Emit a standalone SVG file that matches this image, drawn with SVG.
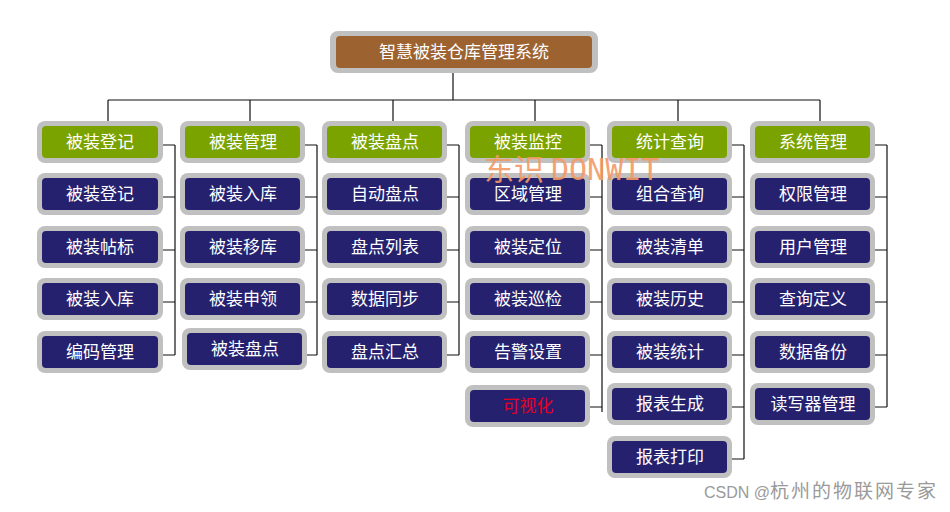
<svg xmlns="http://www.w3.org/2000/svg" width="950" height="512" viewBox="0 0 950 512">
<style>
.o{fill:#C0C0C0}
.g{fill:#7BA300}
.n{fill:#25216F}
.b{fill:#9C6331}
.t{font-family:"Noto Sans CJK SC",sans-serif;font-size:17px;fill:#FFFFFF;text-anchor:middle;dominant-baseline:central}
.r{fill:#E8001C}
.ln{stroke:#111;stroke-width:1.2;fill:none}
</style>
<rect width="950" height="512" fill="#FFFFFF"/>
<g id="connectors" class="ln">
<path d="M453 73V100M108 100H820M108 100V121M250 100V121M393 100V121M535 100V121M678 100V121M820 100V121"/>
<path d="M163 145H175M163 197H175M163 250H175M163 302H175M163 355H175M175 145V355"/>
<path d="M305 145H317M305 197H317M305 250H317M305 302H317M305 355H317M317 145V355"/>
<path d="M447 145H459M447 197H459M447 250H459M447 302H459M447 355H459M459 145V355"/>
<path d="M590 145H602M590 197H602M590 250H602M590 302H602M590 355H602M590 407H602M602 145V412"/>
<path d="M732 145H744M732 197H744M732 250H744M732 302H744M732 355H744M732 407H744M732 459H744M744 145V459"/>
<path d="M875 145H887M875 197H887M875 250H887M875 302H887M875 355H887M875 407H887M887 145V407"/>
</g>
<g id="title"><rect class="o" x="330" y="31" width="268" height="42" rx="8"/><rect class="b" x="336" y="36" width="256" height="32" rx="4"/><text class="t" x="464" y="50">智慧被装仓库管理系统</text></g>

<g id="c1h"><rect class="o" x="37" y="121" width="126" height="42" rx="8"/><rect class="g" x="42" y="126" width="116" height="32" rx="4"/><text class="t" x="100" y="140">被装登记</text></g>
<g id="c1n1"><rect class="o" x="37" y="173" width="126" height="42" rx="8"/><rect class="n" x="42" y="178" width="116" height="32" rx="4"/><text class="t" x="100" y="192">被装登记</text></g>
<g id="c1n2"><rect class="o" x="37" y="226" width="126" height="42" rx="8"/><rect class="n" x="42" y="231" width="116" height="32" rx="4"/><text class="t" x="100" y="245">被装帖标</text></g>
<g id="c1n3"><rect class="o" x="37" y="278" width="126" height="42" rx="8"/><rect class="n" x="42" y="283" width="116" height="32" rx="4"/><text class="t" x="100" y="297">被装入库</text></g>
<g id="c1n4"><rect class="o" x="37" y="331" width="126" height="42" rx="8"/><rect class="n" x="42" y="336" width="116" height="32" rx="4"/><text class="t" x="100" y="350">编码管理</text></g>

<g id="c2h"><rect class="o" x="180" y="121" width="125" height="42" rx="8"/><rect class="g" x="185" y="126" width="115" height="32" rx="4"/><text class="t" x="243" y="140">被装管理</text></g>
<g id="c2n1"><rect class="o" x="180" y="173" width="125" height="42" rx="8"/><rect class="n" x="185" y="178" width="115" height="32" rx="4"/><text class="t" x="243" y="192">被装入库</text></g>
<g id="c2n2"><rect class="o" x="180" y="226" width="125" height="42" rx="8"/><rect class="n" x="185" y="231" width="115" height="32" rx="4"/><text class="t" x="243" y="245">被装移库</text></g>
<g id="c2n3"><rect class="o" x="180" y="278" width="125" height="42" rx="8"/><rect class="n" x="185" y="283" width="115" height="32" rx="4"/><text class="t" x="243" y="297">被装申领</text></g>
<g id="c2n4"><rect class="o" x="182" y="328" width="125" height="42" rx="8"/><rect class="n" x="187" y="333" width="115" height="32" rx="4"/><text class="t" x="245" y="347">被装盘点</text></g>

<g id="c3h"><rect class="o" x="322" y="121" width="125" height="42" rx="8"/><rect class="g" x="327" y="126" width="115" height="32" rx="4"/><text class="t" x="385" y="140">被装盘点</text></g>
<g id="c3n1"><rect class="o" x="322" y="173" width="125" height="42" rx="8"/><rect class="n" x="327" y="178" width="115" height="32" rx="4"/><text class="t" x="385" y="192">自动盘点</text></g>
<g id="c3n2"><rect class="o" x="322" y="226" width="125" height="42" rx="8"/><rect class="n" x="327" y="231" width="115" height="32" rx="4"/><text class="t" x="385" y="245">盘点列表</text></g>
<g id="c3n3"><rect class="o" x="322" y="278" width="125" height="42" rx="8"/><rect class="n" x="327" y="283" width="115" height="32" rx="4"/><text class="t" x="385" y="297">数据同步</text></g>
<g id="c3n4"><rect class="o" x="322" y="331" width="125" height="42" rx="8"/><rect class="n" x="327" y="336" width="115" height="32" rx="4"/><text class="t" x="385" y="350">盘点汇总</text></g>

<g id="c4h"><rect class="o" x="465" y="121" width="125" height="42" rx="8"/><rect class="g" x="470" y="126" width="115" height="32" rx="4"/><text class="t" x="528" y="140">被装监控</text></g>
<g id="c4n1"><rect class="o" x="465" y="173" width="125" height="42" rx="8"/><rect class="n" x="470" y="178" width="115" height="32" rx="4"/><text class="t" x="528" y="192">区域管理</text></g>
<g id="c4n2"><rect class="o" x="465" y="226" width="125" height="42" rx="8"/><rect class="n" x="470" y="231" width="115" height="32" rx="4"/><text class="t" x="528" y="245">被装定位</text></g>
<g id="c4n3"><rect class="o" x="465" y="278" width="125" height="42" rx="8"/><rect class="n" x="470" y="283" width="115" height="32" rx="4"/><text class="t" x="528" y="297">被装巡检</text></g>
<g id="c4n4"><rect class="o" x="465" y="331" width="125" height="42" rx="8"/><rect class="n" x="470" y="336" width="115" height="32" rx="4"/><text class="t" x="528" y="350">告警设置</text></g>
<g id="c4n5"><rect class="o" x="465" y="385" width="125" height="42" rx="8"/><rect class="n" x="470" y="390" width="115" height="32" rx="4"/><text class="t r" x="528" y="404">可视化</text></g>

<g id="c5h"><rect class="o" x="607" y="121" width="125" height="42" rx="8"/><rect class="g" x="612" y="126" width="115" height="32" rx="4"/><text class="t" x="670" y="140">统计查询</text></g>
<g id="c5n1"><rect class="o" x="607" y="173" width="125" height="42" rx="8"/><rect class="n" x="612" y="178" width="115" height="32" rx="4"/><text class="t" x="670" y="192">组合查询</text></g>
<g id="c5n2"><rect class="o" x="607" y="226" width="125" height="42" rx="8"/><rect class="n" x="612" y="231" width="115" height="32" rx="4"/><text class="t" x="670" y="245">被装清单</text></g>
<g id="c5n3"><rect class="o" x="607" y="278" width="125" height="42" rx="8"/><rect class="n" x="612" y="283" width="115" height="32" rx="4"/><text class="t" x="670" y="297">被装历史</text></g>
<g id="c5n4"><rect class="o" x="607" y="331" width="125" height="42" rx="8"/><rect class="n" x="612" y="336" width="115" height="32" rx="4"/><text class="t" x="670" y="350">被装统计</text></g>
<g id="c5n5"><rect class="o" x="607" y="383" width="125" height="42" rx="8"/><rect class="n" x="612" y="388" width="115" height="32" rx="4"/><text class="t" x="670" y="402">报表生成</text></g>
<g id="c5n6"><rect class="o" x="607" y="436" width="125" height="42" rx="8"/><rect class="n" x="612" y="441" width="115" height="32" rx="4"/><text class="t" x="670" y="455">报表打印</text></g>

<g id="c6h"><rect class="o" x="750" y="121" width="125" height="42" rx="8"/><rect class="g" x="755" y="126" width="115" height="32" rx="4"/><text class="t" x="813" y="140">系统管理</text></g>
<g id="c6n1"><rect class="o" x="750" y="173" width="125" height="42" rx="8"/><rect class="n" x="755" y="178" width="115" height="32" rx="4"/><text class="t" x="813" y="192">权限管理</text></g>
<g id="c6n2"><rect class="o" x="750" y="226" width="125" height="42" rx="8"/><rect class="n" x="755" y="231" width="115" height="32" rx="4"/><text class="t" x="813" y="245">用户管理</text></g>
<g id="c6n3"><rect class="o" x="750" y="278" width="125" height="42" rx="8"/><rect class="n" x="755" y="283" width="115" height="32" rx="4"/><text class="t" x="813" y="297">查询定义</text></g>
<g id="c6n4"><rect class="o" x="750" y="331" width="125" height="42" rx="8"/><rect class="n" x="755" y="336" width="115" height="32" rx="4"/><text class="t" x="813" y="350">数据备份</text></g>
<g id="c6n5"><rect class="o" x="750" y="383" width="125" height="42" rx="8"/><rect class="n" x="755" y="388" width="115" height="32" rx="4"/><text class="t" x="813" y="402">读写器管理</text></g>

<g id="watermark" fill="#F39A66" opacity="0.9">
<text x="484" y="180" font-family="Noto Sans CJK SC,sans-serif" font-size="30">东识</text>
<text x="551" y="180" font-family="DejaVu Sans Mono,monospace" font-size="30">DONWIT</text>
</g>
<text x="704" y="498" font-family="Liberation Sans,Noto Sans CJK SC,sans-serif" font-size="16" fill="#9A9A9A">CSDN @<tspan font-family="Noto Sans CJK SC,sans-serif" font-size="19" letter-spacing="2">杭州的物联网专家</tspan></text>
</svg>
